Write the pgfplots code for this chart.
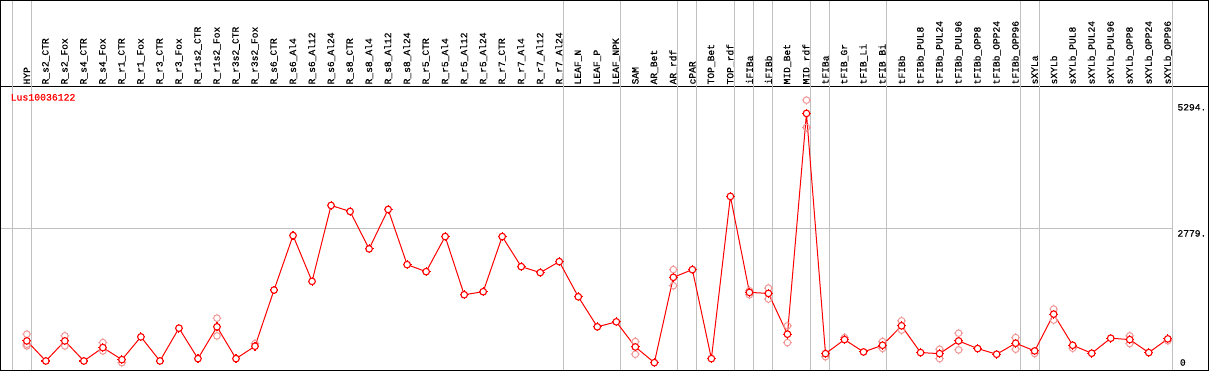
\documentclass[border=0pt]{standalone}
\usepackage{fontspec}
\setmainfont{Liberation Mono}[FakeBold=0.6]
\usepackage{pgfplots}
\pgfplotsset{compat=1.18}
\definecolor{gridc}{RGB}{192,192,192}
\definecolor{rep}{RGB}{240,150,150}
\definecolor{mainred}{RGB}{255,0,0}
\pgfdeclareplotmark{tcirc}{%
  \pgfpathcircle{\pgfpointorigin}{3.3pt}%
  \pgfpathmoveto{\pgfqpoint{0pt}{3.3pt}}\pgfpathlineto{\pgfqpoint{0pt}{4.4pt}}%
  \pgfpathmoveto{\pgfqpoint{0pt}{-3.3pt}}\pgfpathlineto{\pgfqpoint{0pt}{-4.4pt}}%
  \pgfpathmoveto{\pgfqpoint{3.3pt}{0pt}}\pgfpathlineto{\pgfqpoint{4.4pt}{0pt}}%
  \pgfpathmoveto{\pgfqpoint{-3.3pt}{0pt}}\pgfpathlineto{\pgfqpoint{-4.4pt}{0pt}}%
  \pgfusepathqstroke}
\pgfdeclareplotmark{tcircw}{%
  \pgfpathcircle{\pgfpointorigin}{3.3pt}%
  \pgfusepathqfillstroke
  \pgfpathmoveto{\pgfqpoint{0pt}{3.3pt}}\pgfpathlineto{\pgfqpoint{0pt}{4.4pt}}%
  \pgfpathmoveto{\pgfqpoint{0pt}{-3.3pt}}\pgfpathlineto{\pgfqpoint{0pt}{-4.4pt}}%
  \pgfpathmoveto{\pgfqpoint{3.3pt}{0pt}}\pgfpathlineto{\pgfqpoint{4.4pt}{0pt}}%
  \pgfpathmoveto{\pgfqpoint{-3.3pt}{0pt}}\pgfpathlineto{\pgfqpoint{-4.4pt}{0pt}}%
  \pgfusepathqstroke}

\pgfplotstableread{
x v
1 576
2 183
3 576
4 183
5 445
6 209
7 655
8 183
9 826
10 229
11 852
12 229
13 472
14 1573
15 2641
16 1743
17 3231
18 3113
19 2380
20 3152
21 2071
22 1933
23 2621
24 1481
25 1540
26 2621
27 2032
28 1914
29 2130
30 1441
31 852
32 950
33 458
34 150
35 1822
36 1973
37 229
38 3408
39 1527
40 1507
41 708
42 5034
43 327
44 602
45 360
46 491
47 872
48 347
49 327
50 576
51 426
52 315
53 531
54 380
55 1101
56 491
57 334
58 629
59 602
60 347
61 616
}\meantable

\pgfplotstableread{
x v
1 708
1 511
1 478
3 675
3 478
5 543
5 380
6 150
11 1022
11 675
13 524
33 563
33 315
35 1973
35 1658
39 1481
39 1560
40 1612
40 1396
41 872
41 543
42 5294
42 4759
43 268
44 640
46 563
46 430
47 970
47 787
49 413
49 229
50 728
50 400
53 642
53 413
54 330
55 1200
55 984
56 433
59 675
59 524
61 580
}\reptable

\begin{document}
\begin{tikzpicture}
\begin{axis}[
  at={(0,0)}, anchor=south west,
  scale only axis, width=1207pt, height=284pt,
  xmin=-0.384, xmax=63.142, ymin=0, ymax=5570,
  axis line style={black, line width=1pt},
  xtick={1,...,61},
  xticklabels={HYP,R\_s2\_CTR,R\_s2\_Fox,R\_s4\_CTR,R\_s4\_Fox,R\_r1\_CTR,R\_r1\_Fox,R\_r3\_CTR,R\_r3\_Fox,R\_r1s2\_CTR,R\_r1s2\_Fox,R\_r3s2\_CTR,R\_r3s2\_Fox,R\_s6\_CTR,R\_s6\_Al4,R\_s6\_Al12,R\_s6\_Al24,R\_s8\_CTR,R\_s8\_Al4,R\_s8\_Al12,R\_s8\_Al24,R\_r5\_CTR,R\_r5\_Al4,R\_r5\_Al12,R\_r5\_Al24,R\_r7\_CTR,R\_r7\_Al4,R\_r7\_Al12,R\_r7\_Al24,LEAF\_N,LEAF\_P,LEAF\_NPK,SAM,AR\_Bet,AR\_rdf,cPAR,TOP\_Bet,TOP\_rdf,iFIBa,iFIBb,MID\_Bet,MID\_rdf,tFIBa,tFIB\_Gr,tFIB\_Li,tFIB\_Bi,tFIBb,tFIBb\_PUL8,tFIBb\_PUL24,tFIBb\_PUL96,tFIBb\_OPP8,tFIBb\_OPP24,tFIBb\_OPP96,sXYLa,sXYLb,sXYLb\_PUL8,sXYLb\_PUL24,sXYLb\_PUL96,sXYLb\_OPP8,sXYLb\_OPP24,sXYLb\_OPP96},
  xticklabel pos=upper,
  major tick length=0pt,
  xtick style={draw=none},
  xticklabel style={rotate=90, anchor=west, inner sep=1.5pt, font=\fontsize{9.6}{10}\selectfont},
  ytick=\empty,
  clip=false,
]
\pgfplotsinvokeforeach{0.23,1.23,29.23,32.23,35.23,36.23,38.23,39.23,40.23,42.23,43.23,46.23,53.23,54.23,61.23}{
  \draw[gridc, line width=1pt] (axis cs:#1,0) -- (axis cs:#1,7247);
}
\draw[gridc, line width=1pt] (axis cs:-0.384,2779) -- (axis cs:61.23,2779);
\draw[black, line width=1pt] (axis cs:-0.384,5570) -- (axis cs:-0.384,7247) -- (axis cs:63.142,7247) -- (axis cs:63.142,5570);

\addplot[only marks, rep, mark=tcirc, mark options={line width=1pt}] table[x=x, y=v] {\reptable};
\addplot[mainred, line width=1pt, mark=tcircw, mark options={line width=1.1pt, fill=white}] table[x=x, y=v] {\meantable};

\node[anchor=west, text=mainred, inner sep=0pt, font=\fontsize{9.8}{10}\selectfont] at (axis cs:0.142,5350) {Lus10036122};
\node[anchor=west, inner sep=0pt, font=\fontsize{9.6}{10}\selectfont] at (axis cs:61.50,5154) {5294.};
\node[anchor=west, inner sep=0pt, font=\fontsize{9.6}{10}\selectfont] at (axis cs:61.50,2683) {2779.};
\node[anchor=west, inner sep=0pt, font=\fontsize{9.6}{10}\selectfont] at (axis cs:61.63,153) {0};
\end{axis}
\end{tikzpicture}
\end{document}
